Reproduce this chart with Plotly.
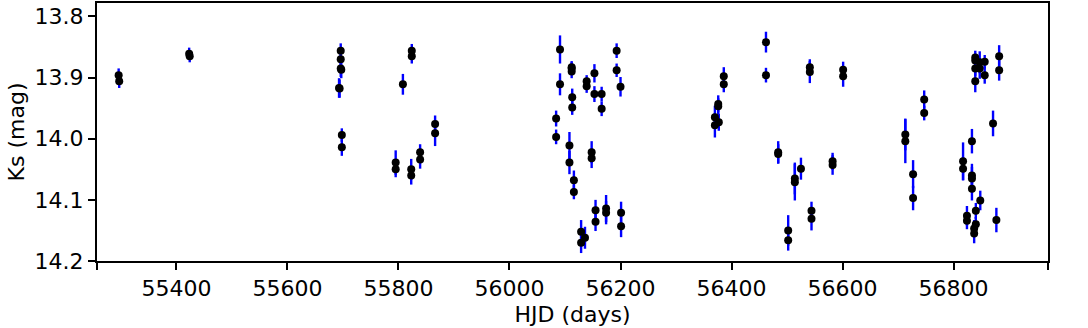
import plotly.graph_objects as go

# light curve: HJD, Ks magnitude, 1-sigma error
hjd = [
    55296, 55297, 55423, 55424,
    55696, 55696, 55696, 55697, 55693, 55694, 55698, 55698,
    55795, 55795, 55808, 55824, 55824, 55823, 55823, 55839, 55839, 55866, 55866,
    56084, 56084, 56091, 56091, 56108, 56108, 56112, 56112, 56112, 56113, 56113,
    56116, 56116, 56129, 56129, 56136, 56139, 56139, 56148, 56148, 56153, 56153,
    56155, 56155, 56166, 56166, 56174, 56174, 56193, 56193, 56200, 56201, 56201,
    56370, 56370, 56376, 56376, 56377, 56386, 56386, 56462, 56462, 56484, 56484,
    56514, 56514, 56525, 56502, 56502, 56541, 56541, 56544, 56544, 56582, 56582,
    56601, 56601,
    56713, 56713, 56727, 56727, 56747, 56747, 56817, 56817, 56824, 56824,
    56833, 56833, 56833, 56833, 56848, 56840, 56840, 56837, 56837, 56877, 56871,
    56839, 56839, 56839, 56839, 56847, 56847, 56856, 56856, 56882, 56882,
]
ks = [
    13.896, 13.906, 13.861, 13.865,
    13.856, 13.870, 13.885, 13.887, 13.917, 13.918, 13.994, 14.014,
    14.039, 14.050, 13.911, 13.856, 13.865, 14.050, 14.060, 14.022, 14.034, 13.976, 13.991,
    13.967, 13.997, 13.854, 13.911, 14.011, 14.039, 13.883, 13.885, 13.890, 13.932, 13.949,
    14.068, 14.087, 14.152, 14.170, 14.162, 13.906, 13.914, 14.022, 14.032, 13.893, 13.927,
    14.117, 14.136, 13.927, 13.951, 14.114, 14.121, 13.856, 13.888, 13.915, 14.121, 14.143,
    13.965, 13.978, 13.943, 13.947, 13.973, 13.898, 13.911, 13.842, 13.896, 14.022, 14.025,
    14.065, 14.071, 14.049, 14.150, 14.166, 13.883, 13.891, 14.118, 14.131, 14.037, 14.043,
    13.887, 13.898,
    13.993, 14.004, 14.058, 14.097, 13.936, 13.958, 14.037, 14.049, 14.126, 14.134,
    14.004, 14.060, 14.065, 14.082, 14.101, 14.118, 14.140, 14.147, 14.155, 14.133, 13.975,
    13.867, 13.872, 13.885, 13.906, 13.875, 13.885, 13.874, 13.896, 13.865, 13.888,
]
ks_err = [
    0.011, 0.011, 0.010, 0.010,
    0.012, 0.012, 0.014, 0.014, 0.016, 0.015, 0.011, 0.014,
    0.020, 0.013, 0.017, 0.011, 0.012, 0.017, 0.015, 0.013, 0.015, 0.014, 0.021,
    0.013, 0.012, 0.023, 0.018, 0.022, 0.019, 0.010, 0.010, 0.011, 0.014, 0.012,
    0.016, 0.012, 0.019, 0.017, 0.018, 0.010, 0.011, 0.018, 0.016, 0.015, 0.013,
    0.017, 0.015, 0.012, 0.012, 0.022, 0.019, 0.012, 0.011, 0.016, 0.018, 0.018,
    0.019, 0.020, 0.014, 0.013, 0.014, 0.015, 0.013, 0.017, 0.012, 0.018, 0.016,
    0.026, 0.030, 0.018, 0.025, 0.017, 0.013, 0.018, 0.015, 0.019, 0.014, 0.016,
    0.013, 0.017,
    0.026, 0.036, 0.023, 0.020, 0.015, 0.012, 0.031, 0.019, 0.016, 0.014,
    0.020, 0.019, 0.019, 0.019, 0.016, 0.013, 0.012, 0.014, 0.016, 0.020, 0.021,
    0.011, 0.011, 0.012, 0.018, 0.018, 0.017, 0.011, 0.014, 0.018, 0.017,
]

x_range = [55257, 56970]
y_range = [14.2, 13.778]
x_ticks = [55257.5, 55400, 55600, 55800, 56000, 56200, 56400, 56600, 56800, 56969.5]
x_labels = ['', '55400', '55600', '55800', '56000', '56200', '56400', '56600', '56800', '']
y_ticks = [13.8, 13.9, 14.0, 14.1, 14.2]

fig = go.Figure()
fig.add_trace(go.Scatter(
    x=hjd, y=ks, mode='markers',
    marker=dict(color='black', size=8),
    error_y=dict(type='data', array=ks_err, color='#0000ff', thickness=2.4, width=0),
    showlegend=False,
))

font = dict(family='DejaVu Sans', size=22, color='black')
fig.update_layout(
    width=1088, height=328,
    margin=dict(l=97, r=40, t=3, b=67, autoexpand=False),
    paper_bgcolor='white', plot_bgcolor='white',
    font=font,
)
fig.update_xaxes(
    range=x_range, tickvals=x_ticks, ticktext=x_labels,
    showgrid=False, zeroline=False,
    showline=True, linecolor='black', linewidth=2, mirror=True,
    ticks='outside', ticklen=7, tickwidth=1.5, tickcolor='black',
    title=dict(text='HJD (days)', font=font, standoff=6),
)
fig.update_yaxes(
    range=y_range, tickvals=y_ticks, ticktext=['13.8', '13.9', '14.0', '14.1', '14.2'],
    showgrid=False, zeroline=False,
    showline=True, linecolor='black', linewidth=2, mirror=True,
    ticks='outside', ticklen=7, tickwidth=1.5, tickcolor='black',
    title=dict(text='Ks (mag)', font=font, standoff=4),
)

# the page's default body margin would shift the chart by 8px
fig.write_html("out.html", config={'displayModeBar': False},
               post_script="document.body.style.margin='0';")
